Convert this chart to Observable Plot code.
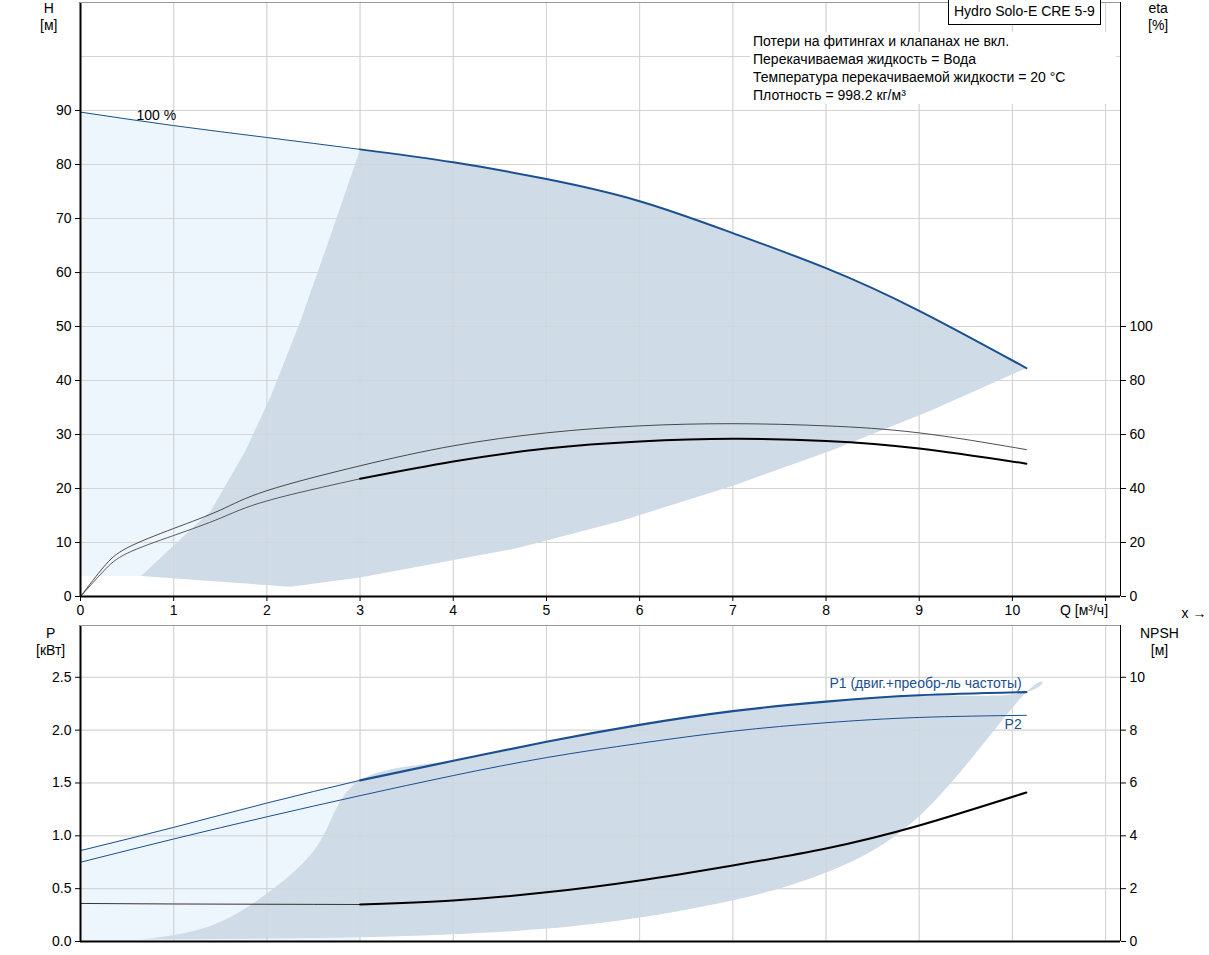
<!DOCTYPE html>
<html><head><meta charset="utf-8">
<script src="https://cdn.jsdelivr.net/npm/d3@7"></script>
<script src="https://cdn.jsdelivr.net/npm/@observablehq/plot@0.6"></script>
<style>
body{margin:0;background:#fff;font-family:"Liberation Sans",Arial,sans-serif;}
#wrap{position:relative;width:1209px;height:955px;}
.lbl{position:absolute;font-size:14px;color:#000;line-height:17px;}
svg{position:absolute;left:0;}
</style></head><body><div id="wrap"></div>
<script>
// ---- data ----
const qH = [0,1,2,3,4,5,6,7,8,9,10.15];
const H  = [89.7,87.2,85,82.8,80.4,77.3,73.2,67.3,60.8,52.9,42.3];
const qEta = [0,0.25,0.5,1,1.5,2,3,4,5,6,7,8,9,10.15];
const etaUpper = [0,11,18,25.2,32,39.2,48.4,55.8,60.6,63.2,64,63.2,60.6,54.4];
const etaLower = [0,9.5,16,22.6,29,35.4,43.6,50,54.8,57.4,58.4,57.6,54.8,49.2];
const darkLeftQ = [0.65,1.4,1.77,2.04,2.36,2.68,3];
const darkLeftH = [3.8,15.9,27,37,51,66.7,82.8];
const darkLowQ = [10.15,9.12,8.05,7,5.8,4.67,3,2.25,0.65];
const darkLowH = [42.3,34.4,27,20.5,14,8.9,3.5,1.8,3.8];
const qP = [0,1,2,3,4,5,6,7,8,9,10.15];
const P1 = [0.86,1.08,1.31,1.525,1.71,1.89,2.05,2.18,2.27,2.33,2.36];
const P2 = [0.75,0.97,1.18,1.38,1.57,1.74,1.875,1.99,2.07,2.12,2.14];
const qN = [0,1,2,3,4,5,6,7,8,9,10.15];
const NPSH = [1.44,1.42,1.41,1.40,1.55,1.86,2.31,2.88,3.52,4.39,5.64];
const pDarkLeftQ = [0.65,1.4,2.04,2.58,3];
const pDarkLeftP = [0.02,0.15,0.48,0.96,1.525];
const pDarkLowQ = [10.15,9.12,8.05,7,5.8,4.67,3,0.65];
const pDarkLowP = [2.36,1.29,0.67,0.39,0.2,0.1,0.04,0.02];
const qTicks = [0,1,2,3,4,5,6,7,8,9,10,11];
const hTicks = [0,10,20,30,40,50,60,70,80,90];
const etaTicks = [0,20,40,60,80,100];
const pTicks = [0,0.5,1,1.5,2,2.5];
const npshTicks = [0,2,4,6,8,10];

const LIGHT="#eef6fd", DARK="#cfdbe6", BLUE="#1b4f8f", GRID="#d4d4d4";
const zip=(xs,ys)=>xs.map((x,i)=>({x,y:ys[i]}));
const interp=(xs,ys,x)=>{for(let i=0;i<xs.length-1;i++){if(x>=xs[i]&&x<=xs[i+1]){const t=(x-xs[i])/(xs[i+1]-xs[i]);return ys[i]+t*(ys[i+1]-ys[i]);}}return ys[ys.length-1];};
const upTo=(xs,ys,a,b)=>zip(xs,ys).filter(d=>d.x>=a&&d.x<=b);
const xDom=[0,11.16];
const wrap=document.getElementById("wrap");

// top panel
const lightTop=[{x:0,y1:3.7,y2:89.7},...qH.filter(q=>q>0&&q<=3).map(q=>({x:q,y1:3.7,y2:interp(qH,H,q)}))];
const darkPoly=[...zip(darkLeftQ,darkLeftH),...upTo(qH,H,3.01,10.15),...zip(darkLowQ,darkLowH)];
const etaU=zip(qEta,etaUpper.map(v=>v/2)), etaL=zip(qEta,etaLower.map(v=>v/2));
const topChart=Plot.plot({
  width:1209,height:620,marginLeft:80,marginRight:89,marginTop:2,marginBottom:24,
  style:{fontFamily:"Liberation Sans, Arial, sans-serif",fontSize:"14px"},
  x:{domain:xDom},y:{domain:[0,110]},
  marks:[
    Plot.areaY(lightTop,{x:"x",y1:"y1",y2:"y2",fill:LIGHT,curve:"monotone-x"}),
    Plot.ruleX(qTicks,{stroke:GRID}),
    Plot.ruleY([0,10,20,30,40,50,60,70,80,90,100],{stroke:GRID}),
    Plot.line(darkPoly,{x:"x",y:"y",fill:DARK,stroke:null,curve:"linear"}),
    Plot.ruleX(qTicks.slice(1),{stroke:GRID,strokeOpacity:0.5}),
    Plot.ruleY(hTicks.slice(1),{stroke:GRID,strokeOpacity:0.5}),
    Plot.line(upTo(qH,H,0,3),{x:"x",y:"y",stroke:BLUE,strokeWidth:1,curve:"natural"}),
    Plot.line(upTo(qH,H,3,10.15),{x:"x",y:"y",stroke:BLUE,strokeWidth:2,curve:"natural"}),
    Plot.line(etaU,{x:"x",y:"y",stroke:"#222",strokeWidth:0.8,curve:"natural"}),
    Plot.line(etaL.filter(d=>d.x<=3),{x:"x",y:"y",stroke:"#333",strokeWidth:0.8,curve:"natural"}),
    Plot.line(etaL.filter(d=>d.x>=3),{x:"x",y:"y",stroke:"#000",strokeWidth:2,curve:"natural"}),
    Plot.text(["100 %"],{x:0.6,y:89,text:d=>d,textAnchor:"start",fill:"#000",fontSize:14}),
    Plot.axisX({ticks:qTicks,tickFormat:d=>d===11?"":d,tickSize:5,fontSize:14}),
    Plot.axisY({ticks:hTicks,tickSize:5,anchor:"left",fontSize:14}),
    Plot.axisY({anchor:"right",ticks:etaTicks.map(v=>v/2),tickFormat:d=>d*2,tickSize:5,fontSize:14}),
    Plot.ruleX([0],{stroke:"#000",strokeWidth:2}),
    Plot.ruleY([0],{stroke:"#000",strokeWidth:2}),
    Plot.ruleX([xDom[1]],{stroke:"#000",strokeWidth:1}),
    Plot.ruleY([110],{stroke:"#999"})
  ]});
topChart.style.top="0px";wrap.appendChild(topChart);

// bottom panel
const P1c=zip(qP,P1),P2c=zip(qP,P2),Nc=zip(qN,NPSH.map(v=>v/4));
const lightBot=qP.filter(q=>q<=3).map(q=>({x:q,y1:0,y2:interp(qP,P1,q)}));
const pDark=[...zip(pDarkLeftQ,pDarkLeftP),...upTo(qP,P1,3.01,10.15),...zip(pDarkLowQ,pDarkLowP)];
const botChart=Plot.plot({
  width:1209,height:335,marginLeft:80,marginRight:89,marginTop:5,marginBottom:14,
  style:{fontFamily:"Liberation Sans, Arial, sans-serif",fontSize:"14px"},
  x:{domain:xDom,axis:null},y:{domain:[0,2.99]},
  marks:[
    Plot.areaY(lightBot,{x:"x",y1:"y1",y2:"y2",fill:LIGHT}),
    Plot.ruleX(qTicks,{stroke:GRID}),
    Plot.ruleY(pTicks,{stroke:GRID}),
    Plot.line(pDark,{x:"x",y:"y",fill:DARK,stroke:null,curve:"natural"}),
    Plot.ruleX(qTicks.slice(1),{stroke:GRID,strokeOpacity:0.5}),
    Plot.ruleY(pTicks.slice(1),{stroke:GRID,strokeOpacity:0.5}),
    Plot.line(P1c.filter(d=>d.x<=3),{x:"x",y:"y",stroke:BLUE,strokeWidth:1,curve:"natural"}),
    Plot.line(P1c.filter(d=>d.x>=3),{x:"x",y:"y",stroke:BLUE,strokeWidth:2.2,curve:"natural"}),
    Plot.line(P2c,{x:"x",y:"y",stroke:BLUE,strokeWidth:1,curve:"natural"}),
    Plot.line(Nc.filter(d=>d.x<=3),{x:"x",y:"y",stroke:"#333",strokeWidth:1,curve:"natural"}),
    Plot.line(Nc.filter(d=>d.x>=3),{x:"x",y:"y",stroke:"#000",strokeWidth:2,curve:"natural"}),
    Plot.text(["P1 (двиг.+преобр-ль частоты)"],{x:10.1,y:2.44,text:d=>d,textAnchor:"end",fill:BLUE,fontSize:14}),
    Plot.text(["P2"],{x:10.1,y:2.05,text:d=>d,textAnchor:"end",fill:BLUE,fontSize:14}),
    Plot.axisY({ticks:pTicks,tickFormat:d=>d.toFixed(1),tickSize:5,anchor:"left",fontSize:14}),
    Plot.axisY({anchor:"right",ticks:npshTicks.map(v=>v/4),tickFormat:d=>d*4,tickSize:5,fontSize:14}),
    Plot.ruleX([0],{stroke:"#000",strokeWidth:2}),
    Plot.ruleY([0],{stroke:"#000",strokeWidth:2}),
    Plot.ruleX([xDom[1]],{stroke:"#000",strokeWidth:1}),
    Plot.ruleY([2.99],{stroke:"#999"})
  ]});
botChart.style.top="620px";wrap.appendChild(botChart);

// HTML labels
const add=(html,css)=>{const d=document.createElement("div");d.className="lbl";d.innerHTML=html;Object.assign(d.style,css);wrap.appendChild(d);};
add("H<br>[м]",{left:"40px",top:"0px",textAlign:"center"});
add("eta<br>[%]",{left:"1148px",top:"0px",textAlign:"center"});
add("Q [м³/ч]",{left:"1060px",top:"602px"});
add("P<br>[кВт]",{left:"36px",top:"625px",textAlign:"center"});
add("NPSH<br>[м]",{left:"1140px",top:"625px",textAlign:"center"});
add("Hydro Solo-E CRE 5-9",{left:"948px",top:"0px",border:"1px solid #000",borderTop:"none",background:"#fff",padding:"3px 5px 4px 5px"});
add("Потери на фитингах и клапанах не вкл.<br>Перекачиваемая жидкость = Вода<br>Температура перекачиваемой жидкости = 20 °C<br>Плотность = 998.2 кг/м³",
    {left:"750px",top:"32px",background:"#fff",padding:"0 8px 0 3px",lineHeight:"18px",width:"355px"});
</script></body></html>
